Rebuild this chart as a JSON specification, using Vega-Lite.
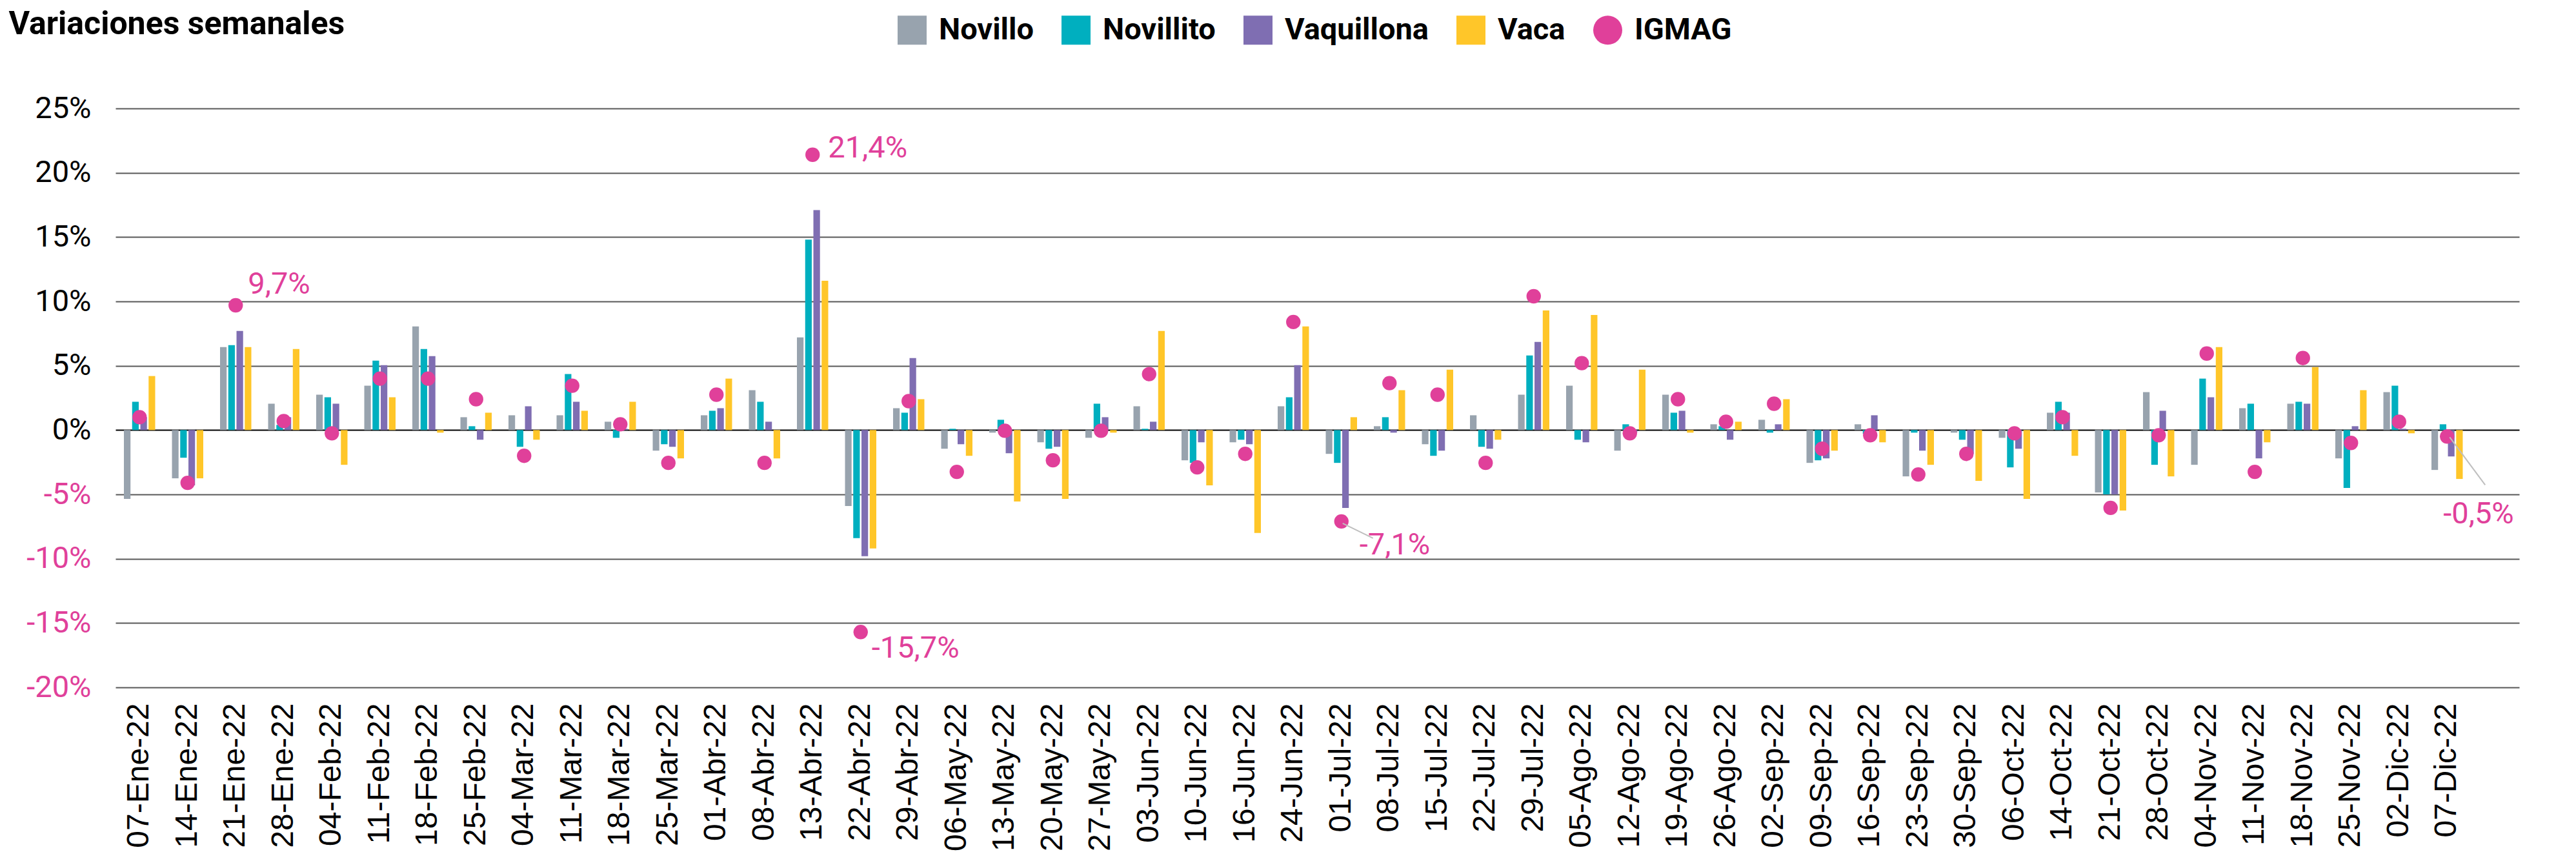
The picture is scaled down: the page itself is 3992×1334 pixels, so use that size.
{
"$schema": "https://vega.github.io/schema/vega-lite/v6.json",
"width": 3725, "height": 897,
"autosize": "none",
"padding": {"left": 179, "top": 168, "right": 88, "bottom": 269},
"background": "white",
"config": {"view": {"stroke": null}, "font": "Roboto"},
"datasets": {
"d": [
{"semana":"07-Ene-22","serie":"Novillo","valor":-5.35},{"semana":"07-Ene-22","serie":"Novillito","valor":2.2},{"semana":"07-Ene-22","serie":"Vaquillona","valor":1.0},{"semana":"07-Ene-22","serie":"Vaca","valor":4.2},{"semana":"07-Ene-22","serie":"IGMAG","valor":1.0},
{"semana":"14-Ene-22","serie":"Novillo","valor":-3.75},{"semana":"14-Ene-22","serie":"Novillito","valor":-2.15},{"semana":"14-Ene-22","serie":"Vaquillona","valor":-4.3},{"semana":"14-Ene-22","serie":"Vaca","valor":-3.75},{"semana":"14-Ene-22","serie":"IGMAG","valor":-4.1},
{"semana":"21-Ene-22","serie":"Novillo","valor":6.45},{"semana":"21-Ene-22","serie":"Novillito","valor":6.6},{"semana":"21-Ene-22","serie":"Vaquillona","valor":7.7},{"semana":"21-Ene-22","serie":"Vaca","valor":6.45},{"semana":"21-Ene-22","serie":"IGMAG","valor":9.7},
{"semana":"28-Ene-22","serie":"Novillo","valor":2.05},{"semana":"28-Ene-22","serie":"Novillito","valor":0.4},{"semana":"28-Ene-22","serie":"Vaquillona","valor":1.0},{"semana":"28-Ene-22","serie":"Vaca","valor":6.3},{"semana":"28-Ene-22","serie":"IGMAG","valor":0.7},
{"semana":"04-Feb-22","serie":"Novillo","valor":2.75},{"semana":"04-Feb-22","serie":"Novillito","valor":2.55},{"semana":"04-Feb-22","serie":"Vaquillona","valor":2.05},{"semana":"04-Feb-22","serie":"Vaca","valor":-2.7},{"semana":"04-Feb-22","serie":"IGMAG","valor":-0.25},
{"semana":"11-Feb-22","serie":"Novillo","valor":3.45},{"semana":"11-Feb-22","serie":"Novillito","valor":5.4},{"semana":"11-Feb-22","serie":"Vaquillona","valor":5.05},{"semana":"11-Feb-22","serie":"Vaca","valor":2.55},{"semana":"11-Feb-22","serie":"IGMAG","valor":4.0},
{"semana":"18-Feb-22","serie":"Novillo","valor":8.05},{"semana":"18-Feb-22","serie":"Novillito","valor":6.3},{"semana":"18-Feb-22","serie":"Vaquillona","valor":5.75},{"semana":"18-Feb-22","serie":"Vaca","valor":-0.2},{"semana":"18-Feb-22","serie":"IGMAG","valor":4.0},
{"semana":"25-Feb-22","serie":"Novillo","valor":1.0},{"semana":"25-Feb-22","serie":"Novillito","valor":0.3},{"semana":"25-Feb-22","serie":"Vaquillona","valor":-0.75},{"semana":"25-Feb-22","serie":"Vaca","valor":1.35},{"semana":"25-Feb-22","serie":"IGMAG","valor":2.4},
{"semana":"04-Mar-22","serie":"Novillo","valor":1.15},{"semana":"04-Mar-22","serie":"Novillito","valor":-1.3},{"semana":"04-Mar-22","serie":"Vaquillona","valor":1.85},{"semana":"04-Mar-22","serie":"Vaca","valor":-0.75},{"semana":"04-Mar-22","serie":"IGMAG","valor":-2.0},
{"semana":"11-Mar-22","serie":"Novillo","valor":1.15},{"semana":"11-Mar-22","serie":"Novillito","valor":4.35},{"semana":"11-Mar-22","serie":"Vaquillona","valor":2.2},{"semana":"11-Mar-22","serie":"Vaca","valor":1.5},{"semana":"11-Mar-22","serie":"IGMAG","valor":3.45},
{"semana":"18-Mar-22","serie":"Novillo","valor":0.65},{"semana":"18-Mar-22","serie":"Novillito","valor":-0.6},{"semana":"18-Mar-22","serie":"Vaquillona","valor":0.1},{"semana":"18-Mar-22","serie":"Vaca","valor":2.2},{"semana":"18-Mar-22","serie":"IGMAG","valor":0.45},
{"semana":"25-Mar-22","serie":"Novillo","valor":-1.6},{"semana":"25-Mar-22","serie":"Novillito","valor":-1.1},{"semana":"25-Mar-22","serie":"Vaquillona","valor":-1.3},{"semana":"25-Mar-22","serie":"Vaca","valor":-2.2},{"semana":"25-Mar-22","serie":"IGMAG","valor":-2.55},
{"semana":"01-Abr-22","serie":"Novillo","valor":1.15},{"semana":"01-Abr-22","serie":"Novillito","valor":1.5},{"semana":"01-Abr-22","serie":"Vaquillona","valor":1.7},{"semana":"01-Abr-22","serie":"Vaca","valor":4.0},{"semana":"01-Abr-22","serie":"IGMAG","valor":2.75},
{"semana":"08-Abr-22","serie":"Novillo","valor":3.1},{"semana":"08-Abr-22","serie":"Novillito","valor":2.2},{"semana":"08-Abr-22","serie":"Vaquillona","valor":0.65},{"semana":"08-Abr-22","serie":"Vaca","valor":-2.2},{"semana":"08-Abr-22","serie":"IGMAG","valor":-2.55},
{"semana":"13-Abr-22","serie":"Novillo","valor":7.2},{"semana":"13-Abr-22","serie":"Novillito","valor":14.8},{"semana":"13-Abr-22","serie":"Vaquillona","valor":17.1},{"semana":"13-Abr-22","serie":"Vaca","valor":11.6},{"semana":"13-Abr-22","serie":"IGMAG","valor":21.4},
{"semana":"22-Abr-22","serie":"Novillo","valor":-5.9},{"semana":"22-Abr-22","serie":"Novillito","valor":-8.4},{"semana":"22-Abr-22","serie":"Vaquillona","valor":-9.8},{"semana":"22-Abr-22","serie":"Vaca","valor":-9.2},{"semana":"22-Abr-22","serie":"IGMAG","valor":-15.7},
{"semana":"29-Abr-22","serie":"Novillo","valor":1.7},{"semana":"29-Abr-22","serie":"Novillito","valor":1.35},{"semana":"29-Abr-22","serie":"Vaquillona","valor":5.6},{"semana":"29-Abr-22","serie":"Vaca","valor":2.4},{"semana":"29-Abr-22","serie":"IGMAG","valor":2.25},
{"semana":"06-May-22","serie":"Novillo","valor":-1.45},{"semana":"06-May-22","serie":"Novillito","valor":0.1},{"semana":"06-May-22","serie":"Vaquillona","valor":-1.1},{"semana":"06-May-22","serie":"Vaca","valor":-2.0},{"semana":"06-May-22","serie":"IGMAG","valor":-3.25},
{"semana":"13-May-22","serie":"Novillo","valor":-0.2},{"semana":"13-May-22","serie":"Novillito","valor":0.8},{"semana":"13-May-22","serie":"Vaquillona","valor":-1.8},{"semana":"13-May-22","serie":"Vaca","valor":-5.55},{"semana":"13-May-22","serie":"IGMAG","valor":-0.05},
{"semana":"20-May-22","serie":"Novillo","valor":-0.95},{"semana":"20-May-22","serie":"Novillito","valor":-1.45},{"semana":"20-May-22","serie":"Vaquillona","valor":-1.3},{"semana":"20-May-22","serie":"Vaca","valor":-5.35},{"semana":"20-May-22","serie":"IGMAG","valor":-2.35},
{"semana":"27-May-22","serie":"Novillo","valor":-0.6},{"semana":"27-May-22","serie":"Novillito","valor":2.05},{"semana":"27-May-22","serie":"Vaquillona","valor":1.0},{"semana":"27-May-22","serie":"Vaca","valor":-0.2},{"semana":"27-May-22","serie":"IGMAG","valor":-0.05},
{"semana":"03-Jun-22","serie":"Novillo","valor":1.85},{"semana":"03-Jun-22","serie":"Novillito","valor":0.1},{"semana":"03-Jun-22","serie":"Vaquillona","valor":0.65},{"semana":"03-Jun-22","serie":"Vaca","valor":7.7},{"semana":"03-Jun-22","serie":"IGMAG","valor":4.35},
{"semana":"10-Jun-22","serie":"Novillo","valor":-2.35},{"semana":"10-Jun-22","serie":"Novillito","valor":-2.55},{"semana":"10-Jun-22","serie":"Vaquillona","valor":-0.95},{"semana":"10-Jun-22","serie":"Vaca","valor":-4.3},{"semana":"10-Jun-22","serie":"IGMAG","valor":-2.9},
{"semana":"16-Jun-22","serie":"Novillo","valor":-0.95},{"semana":"16-Jun-22","serie":"Novillito","valor":-0.75},{"semana":"16-Jun-22","serie":"Vaquillona","valor":-1.1},{"semana":"16-Jun-22","serie":"Vaca","valor":-8.0},{"semana":"16-Jun-22","serie":"IGMAG","valor":-1.85},
{"semana":"24-Jun-22","serie":"Novillo","valor":1.85},{"semana":"24-Jun-22","serie":"Novillito","valor":2.55},{"semana":"24-Jun-22","serie":"Vaquillona","valor":5.05},{"semana":"24-Jun-22","serie":"Vaca","valor":8.05},{"semana":"24-Jun-22","serie":"IGMAG","valor":8.4},
{"semana":"01-Jul-22","serie":"Novillo","valor":-1.85},{"semana":"01-Jul-22","serie":"Novillito","valor":-2.55},{"semana":"01-Jul-22","serie":"Vaquillona","valor":-6.05},{"semana":"01-Jul-22","serie":"Vaca","valor":1.0},{"semana":"01-Jul-22","serie":"IGMAG","valor":-7.1},
{"semana":"08-Jul-22","serie":"Novillo","valor":0.3},{"semana":"08-Jul-22","serie":"Novillito","valor":1.0},{"semana":"08-Jul-22","serie":"Vaquillona","valor":-0.2},{"semana":"08-Jul-22","serie":"Vaca","valor":3.1},{"semana":"08-Jul-22","serie":"IGMAG","valor":3.65},
{"semana":"15-Jul-22","serie":"Novillo","valor":-1.1},{"semana":"15-Jul-22","serie":"Novillito","valor":-2.0},{"semana":"15-Jul-22","serie":"Vaquillona","valor":-1.6},{"semana":"15-Jul-22","serie":"Vaca","valor":4.7},{"semana":"15-Jul-22","serie":"IGMAG","valor":2.75},
{"semana":"22-Jul-22","serie":"Novillo","valor":1.15},{"semana":"22-Jul-22","serie":"Novillito","valor":-1.3},{"semana":"22-Jul-22","serie":"Vaquillona","valor":-1.45},{"semana":"22-Jul-22","serie":"Vaca","valor":-0.75},{"semana":"22-Jul-22","serie":"IGMAG","valor":-2.55},
{"semana":"29-Jul-22","serie":"Novillo","valor":2.75},{"semana":"29-Jul-22","serie":"Novillito","valor":5.8},{"semana":"29-Jul-22","serie":"Vaquillona","valor":6.85},{"semana":"29-Jul-22","serie":"Vaca","valor":9.3},{"semana":"29-Jul-22","serie":"IGMAG","valor":10.4},
{"semana":"05-Ago-22","serie":"Novillo","valor":3.45},{"semana":"05-Ago-22","serie":"Novillito","valor":-0.75},{"semana":"05-Ago-22","serie":"Vaquillona","valor":-0.95},{"semana":"05-Ago-22","serie":"Vaca","valor":8.95},{"semana":"05-Ago-22","serie":"IGMAG","valor":5.2},
{"semana":"12-Ago-22","serie":"Novillo","valor":-1.6},{"semana":"12-Ago-22","serie":"Novillito","valor":0.45},{"semana":"12-Ago-22","serie":"Vaquillona","valor":-0.2},{"semana":"12-Ago-22","serie":"Vaca","valor":4.7},{"semana":"12-Ago-22","serie":"IGMAG","valor":-0.25},
{"semana":"19-Ago-22","serie":"Novillo","valor":2.75},{"semana":"19-Ago-22","serie":"Novillito","valor":1.35},{"semana":"19-Ago-22","serie":"Vaquillona","valor":1.5},{"semana":"19-Ago-22","serie":"Vaca","valor":-0.2},{"semana":"19-Ago-22","serie":"IGMAG","valor":2.4},
{"semana":"26-Ago-22","serie":"Novillo","valor":0.45},{"semana":"26-Ago-22","serie":"Novillito","valor":0.3},{"semana":"26-Ago-22","serie":"Vaquillona","valor":-0.75},{"semana":"26-Ago-22","serie":"Vaca","valor":0.65},{"semana":"26-Ago-22","serie":"IGMAG","valor":0.65},
{"semana":"02-Sep-22","serie":"Novillo","valor":0.8},{"semana":"02-Sep-22","serie":"Novillito","valor":-0.2},{"semana":"02-Sep-22","serie":"Vaquillona","valor":0.45},{"semana":"02-Sep-22","serie":"Vaca","valor":2.4},{"semana":"02-Sep-22","serie":"IGMAG","valor":2.05},
{"semana":"09-Sep-22","serie":"Novillo","valor":-2.55},{"semana":"09-Sep-22","serie":"Novillito","valor":-2.35},{"semana":"09-Sep-22","serie":"Vaquillona","valor":-2.2},{"semana":"09-Sep-22","serie":"Vaca","valor":-1.6},{"semana":"09-Sep-22","serie":"IGMAG","valor":-1.45},
{"semana":"16-Sep-22","serie":"Novillo","valor":0.45},{"semana":"16-Sep-22","serie":"Novillito","valor":-0.3},{"semana":"16-Sep-22","serie":"Vaquillona","valor":1.15},{"semana":"16-Sep-22","serie":"Vaca","valor":-0.95},{"semana":"16-Sep-22","serie":"IGMAG","valor":-0.4},
{"semana":"23-Sep-22","serie":"Novillo","valor":-3.6},{"semana":"23-Sep-22","serie":"Novillito","valor":-0.2},{"semana":"23-Sep-22","serie":"Vaquillona","valor":-1.6},{"semana":"23-Sep-22","serie":"Vaca","valor":-2.7},{"semana":"23-Sep-22","serie":"IGMAG","valor":-3.45},
{"semana":"30-Sep-22","serie":"Novillo","valor":-0.2},{"semana":"30-Sep-22","serie":"Novillito","valor":-0.75},{"semana":"30-Sep-22","serie":"Vaquillona","valor":-1.85},{"semana":"30-Sep-22","serie":"Vaca","valor":-3.95},{"semana":"30-Sep-22","serie":"IGMAG","valor":-1.85},
{"semana":"06-Oct-22","serie":"Novillo","valor":-0.6},{"semana":"06-Oct-22","serie":"Novillito","valor":-2.9},{"semana":"06-Oct-22","serie":"Vaquillona","valor":-1.45},{"semana":"06-Oct-22","serie":"Vaca","valor":-5.35},{"semana":"06-Oct-22","serie":"IGMAG","valor":-0.25},
{"semana":"14-Oct-22","serie":"Novillo","valor":1.35},{"semana":"14-Oct-22","serie":"Novillito","valor":2.2},{"semana":"14-Oct-22","serie":"Vaquillona","valor":1.35},{"semana":"14-Oct-22","serie":"Vaca","valor":-2.0},{"semana":"14-Oct-22","serie":"IGMAG","valor":1.0},
{"semana":"21-Oct-22","serie":"Novillo","valor":-4.85},{"semana":"21-Oct-22","serie":"Novillito","valor":-5.0},{"semana":"21-Oct-22","serie":"Vaquillona","valor":-5.0},{"semana":"21-Oct-22","serie":"Vaca","valor":-6.25},{"semana":"21-Oct-22","serie":"IGMAG","valor":-6.05},
{"semana":"28-Oct-22","serie":"Novillo","valor":2.95},{"semana":"28-Oct-22","serie":"Novillito","valor":-2.7},{"semana":"28-Oct-22","serie":"Vaquillona","valor":1.5},{"semana":"28-Oct-22","serie":"Vaca","valor":-3.6},{"semana":"28-Oct-22","serie":"IGMAG","valor":-0.4},
{"semana":"04-Nov-22","serie":"Novillo","valor":-2.7},{"semana":"04-Nov-22","serie":"Novillito","valor":4.0},{"semana":"04-Nov-22","serie":"Vaquillona","valor":2.55},{"semana":"04-Nov-22","serie":"Vaca","valor":6.45},{"semana":"04-Nov-22","serie":"IGMAG","valor":5.95},
{"semana":"11-Nov-22","serie":"Novillo","valor":1.7},{"semana":"11-Nov-22","serie":"Novillito","valor":2.05},{"semana":"11-Nov-22","serie":"Vaquillona","valor":-2.2},{"semana":"11-Nov-22","serie":"Vaca","valor":-0.95},{"semana":"11-Nov-22","serie":"IGMAG","valor":-3.25},
{"semana":"18-Nov-22","serie":"Novillo","valor":2.05},{"semana":"18-Nov-22","serie":"Novillito","valor":2.2},{"semana":"18-Nov-22","serie":"Vaquillona","valor":2.05},{"semana":"18-Nov-22","serie":"Vaca","valor":4.9},{"semana":"18-Nov-22","serie":"IGMAG","valor":5.6},
{"semana":"25-Nov-22","serie":"Novillo","valor":-2.2},{"semana":"25-Nov-22","serie":"Novillito","valor":-4.5},{"semana":"25-Nov-22","serie":"Vaquillona","valor":0.3},{"semana":"25-Nov-22","serie":"Vaca","valor":3.1},{"semana":"25-Nov-22","serie":"IGMAG","valor":-1.0},
{"semana":"02-Dic-22","serie":"Novillo","valor":2.95},{"semana":"02-Dic-22","serie":"Novillito","valor":3.45},{"semana":"02-Dic-22","serie":"Vaquillona","valor":0.1},{"semana":"02-Dic-22","serie":"Vaca","valor":-0.25},{"semana":"02-Dic-22","serie":"IGMAG","valor":0.65},
{"semana":"07-Dic-22","serie":"Novillo","valor":-3.1},{"semana":"07-Dic-22","serie":"Novillito","valor":0.45},{"semana":"07-Dic-22","serie":"Vaquillona","valor":-2.05},{"semana":"07-Dic-22","serie":"Vaca","valor":-3.8},{"semana":"07-Dic-22","serie":"IGMAG","valor":-0.5}
],
"notas": [
{"semana":"21-Ene-22","valor":9.7,"etiqueta":"9,7%"},
{"semana":"13-Abr-22","valor":21.4,"etiqueta":"21,4%"},
{"semana":"22-Abr-22","valor":-15.7,"etiqueta":"-15,7%"},
{"semana":"01-Jul-22","valor":-7.1,"etiqueta":"-7,1%"},
{"semana":"07-Dic-22","valor":-0.5,"etiqueta":"-0,5%"}
]
},
"data": {"name": "d"},
"encoding": {
"x": {"field": "semana", "type": "nominal",
 "scale": {"domain": ["07-Ene-22","14-Ene-22","21-Ene-22","28-Ene-22","04-Feb-22","11-Feb-22","18-Feb-22","25-Feb-22","04-Mar-22","11-Mar-22","18-Mar-22","25-Mar-22","01-Abr-22","08-Abr-22","13-Abr-22","22-Abr-22","29-Abr-22","06-May-22","13-May-22","20-May-22","27-May-22","03-Jun-22","10-Jun-22","16-Jun-22","24-Jun-22","01-Jul-22","08-Jul-22","15-Jul-22","22-Jul-22","29-Jul-22","05-Ago-22","12-Ago-22","19-Ago-22","26-Ago-22","02-Sep-22","09-Sep-22","16-Sep-22","23-Sep-22","30-Sep-22","06-Oct-22","14-Oct-22","21-Oct-22","28-Oct-22","04-Nov-22","11-Nov-22","18-Nov-22","25-Nov-22","02-Dic-22","07-Dic-22"," "], "paddingInner": 0.315, "paddingOuter": 0.1575},
 "axis": {"title": null, "labelAngle": -90, "labelFont": "Liberation Sans", "labelFontSize": 48, "labelColor": "#000000", "labelLimit": 0, "ticks": false, "domain": false, "labelPadding": 24, "labelOverlap": false, "grid": false}},
"y": {"field": "valor", "type": "quantitative",
 "scale": {"domain": [-20, 25], "nice": false, "zero": false},
 "axis": {"values": [-20,-15,-10,-5,0,5,10,15,20,25], "labelExpr": "datum.value + '%'", "labelFont": "Roboto", "labelFontSize": 47,
  "labelColor": {"condition": {"test": "datum.value < 0", "value": "#E0409A"}, "value": "#000000"},
  "domain": false, "ticks": false, "labelPadding": 38,
  "gridColor": {"condition": {"test": "datum.value === 0", "value": "#000000"}, "value": "#595959"}, "gridWidth": 2,
  "title": "Variaciones semanales", "titleAngle": 0, "titleX": -166, "titleY": -116, "titleAlign": "left", "titleBaseline": "alphabetic",
  "titleFont": "Roboto", "titleFontSize": 50, "titleFontWeight": "bold", "titleColor": "#000000"}}
},
"layer": [
{"transform": [{"filter": "datum.serie != 'IGMAG'"}],
 "mark": {"type": "bar", "opacity": 1},
 "encoding": {
  "xOffset": {"field": "serie", "type": "nominal", "scale": {"domain": ["Novillo","Novillito","Vaquillona","Vaca"], "paddingInner": 0.2, "paddingOuter": 0.1}},
  "color": {"field": "serie", "type": "nominal",
   "scale": {"domain": ["Novillo","Novillito","Vaquillona","Vaca","IGMAG"], "range": ["#98A3AE","#00AFBF","#7F6EB2","#FFC629","#E0409A"]},
   "legend": {"orient": "none", "legendX": 1211, "legendY": -145, "direction": "horizontal", "title": null,
    "symbolType": "square", "symbolSize": 2025, "symbolStrokeWidth": 0, "symbolOpacity": 1,
    "labelFont": "Roboto", "labelFontSize": 47, "labelFontWeight": "bold", "labelColor": "#000000", "labelLimit": 0,
    "labelOffset": 18, "columnPadding": 42, "padding": 0,
    "values": ["Novillo","Novillito","Vaquillona","Vaca","IGMAG"],
    "encode": {"symbols": {"update": {"shape": {"signal": "datum.value === 'IGMAG' ? 'circle' : 'square'"}}}}}}
 }},
{"transform": [{"filter": "datum.serie == 'IGMAG'"}],
 "mark": {"type": "circle", "size": 500, "opacity": 1},
 "encoding": {"color": {"field": "serie", "type": "nominal"}}},
{"data": {"name": "notas"}, "transform": [{"filter": "datum.semana == '01-Jul-22'"}],
 "mark": {"type": "rule", "color": "#BFBFBF", "strokeWidth": 2, "xOffset": 2, "yOffset": 3, "x2Offset": 49, "y2Offset": 26},
 "encoding": {"x2": {"field": "semana"}, "y2": {"field": "valor"}}},
{"data": {"name": "notas"}, "transform": [{"filter": "datum.semana == '07-Dic-22'"}],
 "mark": {"type": "rule", "color": "#BFBFBF", "strokeWidth": 2, "xOffset": 4, "yOffset": 1, "x2Offset": 59, "y2Offset": 75},
 "encoding": {"x2": {"field": "semana"}, "y2": {"field": "valor"}}},
{"data": {"name": "notas"}, "transform": [{"filter": "datum.semana == '21-Ene-22'"}],
 "mark": {"type": "text", "align": "left", "baseline": "alphabetic", "dx": 19, "dy": -18, "font": "Roboto", "fontSize": 47, "color": "#E0409A"},
 "encoding": {"text": {"field": "etiqueta"}}},
{"data": {"name": "notas"}, "transform": [{"filter": "datum.semana == '13-Abr-22'"}],
 "mark": {"type": "text", "align": "left", "baseline": "alphabetic", "dx": 24, "dy": 4, "font": "Roboto", "fontSize": 47, "color": "#E0409A"},
 "encoding": {"text": {"field": "etiqueta"}}},
{"data": {"name": "notas"}, "transform": [{"filter": "datum.semana == '22-Abr-22'"}],
 "mark": {"type": "text", "align": "left", "baseline": "alphabetic", "dx": 17, "dy": 40, "font": "Roboto", "fontSize": 47, "color": "#E0409A"},
 "encoding": {"text": {"field": "etiqueta"}}},
{"data": {"name": "notas"}, "transform": [{"filter": "datum.semana == '01-Jul-22'"}],
 "mark": {"type": "text", "align": "left", "baseline": "alphabetic", "dx": 28, "dy": 51, "font": "Roboto", "fontSize": 47, "color": "#E0409A"},
 "encoding": {"text": {"field": "etiqueta"}}},
{"data": {"name": "notas"}, "transform": [{"filter": "datum.semana == '07-Dic-22'"}],
 "mark": {"type": "text", "align": "left", "baseline": "alphabetic", "dx": -6, "dy": 135, "font": "Roboto", "fontSize": 47, "color": "#E0409A"},
 "encoding": {"text": {"field": "etiqueta"}}}
]
}
